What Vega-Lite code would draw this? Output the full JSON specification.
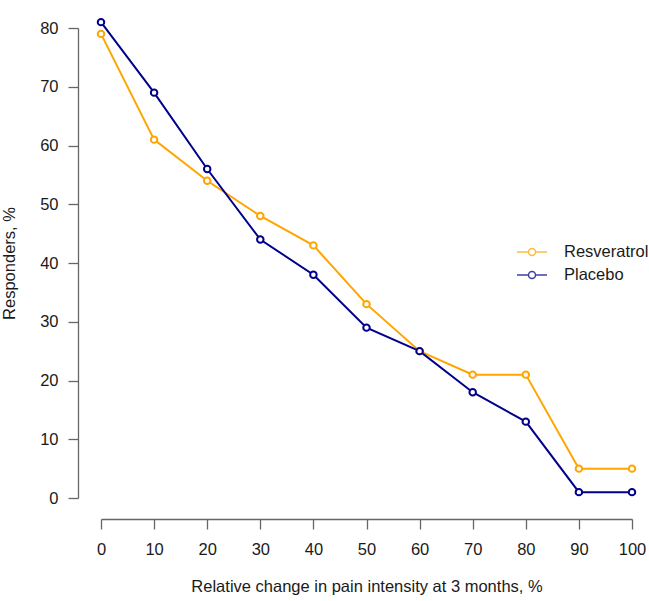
{
  "$schema": "https://vega.github.io/schema/vega-lite/v6.json",
  "autosize": "none",
  "padding": {"left": 101, "top": 28, "right": 17, "bottom": 103},
  "width": 531,
  "height": 470,
  "background": "white",
  "config": {
    "view": {"stroke": null},
    "font": "Liberation Sans",
    "axis": {
      "grid": false,
      "domainColor": "#666666",
      "tickColor": "#666666",
      "domainWidth": 1.3,
      "tickWidth": 1.3,
      "labelColor": "#1a1a1a",
      "titleColor": "#1a1a1a",
      "labelFontSize": 16.5,
      "titleFontSize": 16.5,
      "titleFontWeight": "normal",
      "tickSize": 10,
      "labelPadding": 6
    }
  },
  "data": {
    "values": [
      {"change": 0, "pct": 79, "group": "Resveratrol"},
      {"change": 10, "pct": 61, "group": "Resveratrol"},
      {"change": 20, "pct": 54, "group": "Resveratrol"},
      {"change": 30, "pct": 48, "group": "Resveratrol"},
      {"change": 40, "pct": 43, "group": "Resveratrol"},
      {"change": 50, "pct": 33, "group": "Resveratrol"},
      {"change": 60, "pct": 25, "group": "Resveratrol"},
      {"change": 70, "pct": 21, "group": "Resveratrol"},
      {"change": 80, "pct": 21, "group": "Resveratrol"},
      {"change": 90, "pct": 5, "group": "Resveratrol"},
      {"change": 100, "pct": 5, "group": "Resveratrol"},
      {"change": 0, "pct": 81, "group": "Placebo"},
      {"change": 10, "pct": 69, "group": "Placebo"},
      {"change": 20, "pct": 56, "group": "Placebo"},
      {"change": 30, "pct": 44, "group": "Placebo"},
      {"change": 40, "pct": 38, "group": "Placebo"},
      {"change": 50, "pct": 29, "group": "Placebo"},
      {"change": 60, "pct": 25, "group": "Placebo"},
      {"change": 70, "pct": 18, "group": "Placebo"},
      {"change": 80, "pct": 13, "group": "Placebo"},
      {"change": 90, "pct": 1, "group": "Placebo"},
      {"change": 100, "pct": 1, "group": "Placebo"}
    ]
  },
  "encoding": {
    "x": {
      "field": "change", "type": "quantitative",
      "scale": {"domain": [0, 100], "nice": false, "zero": false},
      "axis": {
        "values": [0, 10, 20, 30, 40, 50, 60, 70, 80, 90, 100],
        "offset": 21,
        "title": "Relative change in pain intensity at 3 months, %",
        "labelPadding": 12,
        "titlePadding": 21,
        "labelFlush": false
      }
    },
    "y": {
      "field": "pct", "type": "quantitative",
      "scale": {"domain": [0, 80], "nice": false},
      "axis": {
        "values": [0, 10, 20, 30, 40, 50, 60, 70, 80],
        "offset": 23,
        "title": "Responders, %",
        "titlePadding": 22,
        "labelPadding": 10,
        "labelFlush": false
      }
    },
    "color": {
      "field": "group", "type": "nominal",
      "scale": {"domain": ["Resveratrol", "Placebo"], "range": ["#FFA500", "#00008B"]},
      "legend": {
        "title": null,
        "orient": "none",
        "legendX": 422,
        "legendY": 215,
        "padding": 0,
        "rowPadding": 5,
        "symbolType": "M-1.875,0L-0.44,0M0.44,0L1.875,0M0.44,0A0.44,0.44 0 1 1 -0.44,0A0.44,0.44 0 1 1 0.44,0",
        "symbolSize": 256,
        "symbolFillColor": "transparent",
        "symbolStrokeWidth": 1.5,
        "symbolOpacity": 0.75,
        "labelOffset": 23,
        "labelFontSize": 16.5,
        "labelColor": "#1a1a1a",
        "labelFont": "Liberation Sans"
      }
    }
  },
  "layer": [
    {"mark": {"type": "line", "strokeWidth": 2, "clip": false}},
    {"mark": {"type": "point", "shape": "circle", "filled": false, "fill": "white", "fillOpacity": 1, "size": 42, "strokeWidth": 2, "opacity": 1, "clip": false}}
  ]
}
